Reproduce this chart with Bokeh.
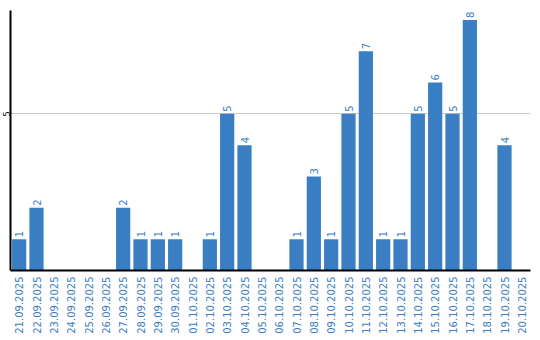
import math
from bokeh.plotting import figure
from bokeh.models import FactorRange, Range1d, FixedTicker, ColumnDataSource
from bokeh.core.properties import value
from bokeh.embed import file_html
from bokeh.resources import INLINE

dates = ["21.09.2025", "22.09.2025", "23.09.2025", "24.09.2025", "25.09.2025",
         "26.09.2025", "27.09.2025", "28.09.2025", "29.09.2025", "30.09.2025",
         "01.10.2025", "02.10.2025", "03.10.2025", "04.10.2025", "05.10.2025",
         "06.10.2025", "07.10.2025", "08.10.2025", "09.10.2025", "10.10.2025",
         "11.10.2025", "12.10.2025", "13.10.2025", "14.10.2025", "15.10.2025",
         "16.10.2025", "17.10.2025", "18.10.2025", "19.10.2025", "20.10.2025"]
counts = [1, 2, 0, 0, 0, 0, 2, 1, 1, 1,
          0, 1, 5, 4, 0, 0, 1, 3, 1, 5,
          7, 1, 1, 5, 6, 5, 8, 0, 4, 0]
y_ticks = [5]

BLUE = "#3a7ec4"
TXT = "#3a7ec4"

src = ColumnDataSource(dict(
    x=dates, top=counts,
    lab=[str(c) if c > 0 else "" for c in counts],
))

p = figure(width=540, height=340, x_range=FactorRange(*dates),
           y_range=Range1d(0, 8.3), output_backend="svg",
           toolbar_location=None,
           min_border_left=10, min_border_right=10, min_border_top=10,
           min_border_bottom=70)
p.outline_line_color = None
p.vbar(x="x", top="top", width=0.82, source=src, color=BLUE, line_color=None)
p.text(x="x", y="top", text="lab", source=src, angle=math.pi / 2,
       text_align="left", text_baseline="middle", y_offset=-2,
       text_color=TXT, text_font_size="10px",
       text_font=value("DejaVu Sans"))

p.xgrid.grid_line_color = None
p.ygrid.ticker = FixedTicker(ticks=y_ticks)
p.ygrid.grid_line_color = "#cccccc"

p.yaxis.ticker = FixedTicker(ticks=y_ticks)
p.yaxis.major_label_orientation = "vertical"
p.yaxis.major_tick_line_color = None
p.yaxis.major_tick_out = 0
p.yaxis.major_tick_in = 0
p.yaxis.minor_tick_line_color = None
p.yaxis.major_label_standoff = 0
p.yaxis.major_label_text_font_size = "8px"
p.yaxis.major_label_text_color = "black"
p.yaxis.major_label_text_font = "DejaVu Sans"
p.yaxis.axis_line_color = "black"
p.yaxis.axis_line_width = 2

p.xaxis.major_label_orientation = math.pi / 2
p.xaxis.major_tick_line_color = None
p.xaxis.major_tick_out = 0
p.xaxis.major_tick_in = 0
p.xaxis.major_label_standoff = 6
p.xaxis.major_label_text_font_size = "10px"
p.xaxis.major_label_text_color = TXT
p.xaxis.major_label_text_font = "DejaVu Sans"
p.xaxis.axis_line_color = "black"
p.xaxis.axis_line_width = 2

open("out.html", "w").write(file_html(p, INLINE))
